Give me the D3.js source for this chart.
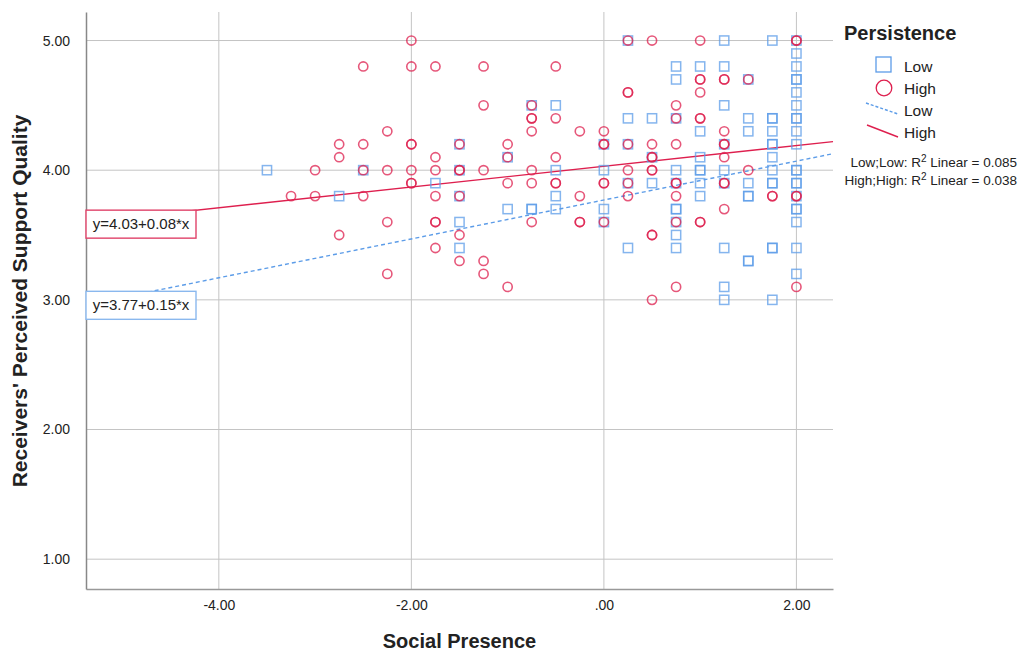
<!doctype html>
<html>
<head>
<meta charset="UTF-8">
<title>Social Presence scatter</title>
<script src="https://d3js.org/d3.v7.min.js"></script>
<style>
  body { margin: 0; background: #fff; }
  text { font-family: "Liberation Sans", Arial, sans-serif; fill: #222; }
</style>
</head>
<body>
<script>
// Persistence = Low (squares)
var lowPoints = [
  [-3.5,4.0],[-2.75,3.8],[-2.5,4.0],[-1.75,3.9],[-1.5,4.2],[-1.5,4.0],[-1.5,3.8],[-1.5,3.6],[-1.5,3.4],
  [-1,4.1],[-1,3.7],[-0.75,4.5],[-0.75,3.7],[-0.75,3.7],[-0.5,4.5],[-0.5,4.0],[-0.5,3.8],[-0.5,3.7],
  [0,4.2],[0,4.0],[0,3.7],[0,3.6],
  [0.25,5.0],[0.25,4.4],[0.25,4.2],[0.25,3.9],[0.25,3.4],[0.5,4.4],[0.5,4.1],[0.5,3.9],
  [0.75,4.8],[0.75,4.7],[0.75,4.4],[0.75,4.0],[0.75,3.9],[0.75,3.7],[0.75,3.7],[0.75,3.6],[0.75,3.5],[0.75,3.4],
  [1,4.8],[1,4.3],[1,4.1],[1,4.0],[1,4.0],[1,3.9],[1,3.8],
  [1.25,5.0],[1.25,4.8],[1.25,4.5],[1.25,4.2],[1.25,4.0],[1.25,3.9],[1.25,3.4],[1.25,3.1],[1.25,3.0],
  [1.5,4.7],[1.5,4.4],[1.5,4.3],[1.5,3.9],[1.5,3.8],[1.5,3.8],[1.5,3.3],[1.5,3.3],
  [1.75,5.0],[1.75,4.4],[1.75,4.4],[1.75,4.3],[1.75,4.2],[1.75,4.2],[1.75,4.1],[1.75,4.0],[1.75,3.9],[1.75,3.9],
  [1.75,3.4],[1.75,3.4],[1.75,3.0],
  [2,5.0],[2,4.9],[2,4.8],[2,4.7],[2,4.7],[2,4.6],[2,4.5],[2,4.4],[2,4.4],[2,4.3],[2,4.2],[2,4.0],[2,4.0],
  [2,3.9],[2,3.9],[2,3.8],[2,3.7],[2,3.7],[2,3.6],[2,3.4],[2,3.2]
];
// Persistence = High (circles)
var highPoints = [
  [-3.25,3.8],[-3,4.0],[-3,3.8],[-2.75,4.2],[-2.75,4.1],[-2.75,3.5],[-2.5,4.8],[-2.5,4.2],[-2.5,4.0],[-2.5,3.8],
  [-2.25,4.3],[-2.25,4.0],[-2.25,3.6],[-2.25,3.2],
  [-2,5.0],[-2,4.8],[-2,4.2],[-2,4.2],[-2,4.0],[-2,3.9],[-2,3.9],
  [-1.75,4.8],[-1.75,4.1],[-1.75,4.0],[-1.75,3.8],[-1.75,3.6],[-1.75,3.6],[-1.75,3.4],
  [-1.5,4.2],[-1.5,4.0],[-1.5,4.0],[-1.5,3.8],[-1.5,3.5],[-1.5,3.3],
  [-1.25,4.8],[-1.25,4.5],[-1.25,4.0],[-1.25,3.3],[-1.25,3.2],
  [-1,4.2],[-1,4.1],[-1,3.9],[-1,3.1],
  [-0.75,4.5],[-0.75,4.4],[-0.75,4.4],[-0.75,4.3],[-0.75,4.0],[-0.75,3.9],[-0.75,3.6],
  [-0.5,4.8],[-0.5,4.4],[-0.5,4.1],[-0.5,3.9],[-0.5,3.9],
  [-0.25,4.3],[-0.25,3.8],[-0.25,3.6],[-0.25,3.6],
  [0,4.3],[0,4.2],[0,4.2],[0,3.9],[0,3.9],[0,3.6],
  [0.25,5.0],[0.25,4.6],[0.25,4.6],[0.25,4.2],[0.25,4.0],[0.25,3.9],[0.25,3.8],
  [0.5,5.0],[0.5,4.2],[0.5,4.1],[0.5,4.1],[0.5,4.0],[0.5,4.0],[0.5,3.5],[0.5,3.5],[0.5,3.0],
  [0.75,4.5],[0.75,4.4],[0.75,4.2],[0.75,3.9],[0.75,3.9],[0.75,3.8],[0.75,3.6],[0.75,3.1],
  [1,5.0],[1,4.7],[1,4.7],[1,4.6],[1,4.4],[1,4.4],[1,3.6],[1,3.6],
  [1.25,4.7],[1.25,4.7],[1.25,4.3],[1.25,4.2],[1.25,4.2],[1.25,4.1],[1.25,3.9],[1.25,3.9],[1.25,3.7],
  [1.5,4.7],[1.5,4.0],
  [1.75,3.8],[1.75,3.8],
  [2,5.0],[2,5.0],[2,3.8],[2,3.8],[2,3.1]
];
// fit lines: intercept, slope
var lowFit = [3.77, 0.15];
var highFit = [4.03, 0.08];
var xTicks = [-4, -2, 0, 2];
var yTicks = [1, 2, 3, 4, 5];
var r2Labels = ["Low;Low: R", "High;High: R"];
var r2Values = ["0.085", "0.038"];

var w = 1023, h = 653;
var pLeft = 86, pRight = 833, pTop = 12, pBottom = 589;
var blue = "#5c9ce8", red = "#de1f4e";

var svg = d3.select("body").append("svg").attr("width", w).attr("height", h);

var x = d3.scaleLinear().domain([-5.38, 2.38]).range([pLeft, pRight]);
var y = d3.scaleLinear().domain([0.77, 5.22]).range([pBottom, pTop]);

function fmt(v) {
  var s = d3.format(".2f")(v).replace("\u2212", "-");
  return s.replace(/^0\./, ".").replace(/^-0\./, "-.");
}

// grid
svg.append("g").selectAll("line").data(yTicks).enter().append("line")
  .attr("x1", pLeft).attr("x2", pRight)
  .attr("y1", function(d){ return y(d); }).attr("y2", function(d){ return y(d); })
  .attr("stroke", "#c4c4c4").attr("stroke-width", 1);
svg.append("g").selectAll("line").data(xTicks).enter().append("line")
  .attr("x1", function(d){ return x(d); }).attr("x2", function(d){ return x(d); })
  .attr("y1", pTop).attr("y2", pBottom)
  .attr("stroke", "#c4c4c4").attr("stroke-width", 1);

// axes
var xAxis = d3.axisBottom(x).tickValues(xTicks).tickSize(0).tickPadding(11).tickFormat(fmt);
var gx = svg.append("g").attr("transform", "translate(0," + pBottom + ")").call(xAxis);
gx.select(".domain").attr("stroke", "#999").attr("stroke-width", 1.5);
gx.selectAll("text").attr("font-size", 14).attr("fill", "#222")
  .style("font-family", "'Liberation Sans', Arial, sans-serif");

var yAxis = d3.axisLeft(y).tickValues(yTicks).tickSize(0).tickPadding(16).tickFormat(fmt);
var gy = svg.append("g").attr("transform", "translate(" + pLeft + ",0)").call(yAxis);
gy.select(".domain").attr("stroke", "#888").attr("stroke-width", 1.5);
gy.selectAll("text").attr("font-size", 14).attr("fill", "#222")
  .style("font-family", "'Liberation Sans', Arial, sans-serif");

// fit lines
var xd = x.domain();
function fitLine(f) {
  return [[xd[0], f[0] + f[1] * xd[0]], [xd[1], f[0] + f[1] * xd[1]]];
}
var line = d3.line().x(function(d){ return x(d[0]); }).y(function(d){ return y(d[1]); });
svg.append("path").datum(fitLine(lowFit)).attr("d", line)
  .attr("fill", "none").attr("stroke", blue).attr("stroke-width", 1.4).attr("stroke-dasharray", "4,3");
svg.append("path").datum(fitLine(highFit)).attr("d", line)
  .attr("fill", "none").attr("stroke", red).attr("stroke-width", 1.4);

// points
svg.append("g").selectAll("rect").data(lowPoints).enter().append("rect")
  .attr("x", function(d){ return x(d[0]) - 4.6; })
  .attr("y", function(d){ return y(d[1]) - 4.6; })
  .attr("width", 9.2).attr("height", 9.2)
  .attr("fill", "none").attr("stroke", blue).attr("stroke-width", 1.5).attr("stroke-opacity", 0.75);
svg.append("g").selectAll("circle").data(highPoints).enter().append("circle")
  .attr("cx", function(d){ return x(d[0]); })
  .attr("cy", function(d){ return y(d[1]); })
  .attr("r", 4.6)
  .attr("fill", "none").attr("stroke", red).attr("stroke-width", 1.6).attr("stroke-opacity", 0.75);

// equation boxes
function eqBox(f, xAnchor, color, label) {
  var top0 = y(f[0] + f[1] * xAnchor);
  var g = svg.append("g");
  g.append("rect").attr("x", pLeft).attr("y", top0).attr("width", 110).attr("height", 28)
    .attr("fill", "#fff").attr("stroke", color).attr("stroke-width", 1.4);
  g.append("text").attr("x", pLeft + 55).attr("y", top0 + 19).attr("text-anchor", "middle")
    .attr("font-size", 15).text(label);
}
eqBox(highFit, x.invert(197), "#e0436a", "y=4.03+0.08*x");
eqBox(lowFit, x.invert(152), "#8ab8ee", "y=3.77+0.15*x");

// axis titles
svg.append("text").attr("x", (pLeft + pRight) / 2).attr("y", 648).attr("text-anchor", "middle")
  .attr("font-size", 20).attr("font-weight", "bold").text("Social Presence");
svg.append("text").attr("transform", "translate(27,301) rotate(-90)").attr("text-anchor", "middle")
  .attr("font-size", 21).attr("font-weight", "bold").text("Receivers' Perceived Support Quality");

// legend
var lg = svg.append("g");
lg.append("text").attr("x", 844).attr("y", 40).attr("font-size", 20).attr("font-weight", "bold").text("Persistence");
lg.append("rect").attr("x", 876).attr("y", 57).attr("width", 15).attr("height", 15)
  .attr("fill", "none").attr("stroke", blue).attr("stroke-width", 1.3);
lg.append("text").attr("x", 904).attr("y", 72).attr("font-size", 15.5).text("Low");
lg.append("circle").attr("cx", 884).attr("cy", 88).attr("r", 7.8)
  .attr("fill", "none").attr("stroke", red).attr("stroke-width", 1.3);
lg.append("text").attr("x", 904).attr("y", 94).attr("font-size", 15.5).text("High");
lg.append("line").attr("x1", 866).attr("y1", 103).attr("x2", 898).attr("y2", 114)
  .attr("stroke", blue).attr("stroke-width", 1.4).attr("stroke-dasharray", "3,2");
lg.append("text").attr("x", 904).attr("y", 116).attr("font-size", 15.5).text("Low");
lg.append("line").attr("x1", 867).attr("y1", 125).attr("x2", 898).attr("y2", 137)
  .attr("stroke", red).attr("stroke-width", 1.4);
lg.append("text").attr("x", 904).attr("y", 138).attr("font-size", 15.5).text("High");

r2Labels.forEach(function(lab, i) {
  var t = lg.append("text").attr("x", 1017).attr("y", 167 + i * 18).attr("text-anchor", "end").attr("font-size", 13.5);
  t.append("tspan").text(lab);
  t.append("tspan").attr("dy", -5).attr("font-size", 10).text("2");
  t.append("tspan").attr("dy", 5).text(" Linear = " + r2Values[i]);
});
</script>
</body>
</html>
